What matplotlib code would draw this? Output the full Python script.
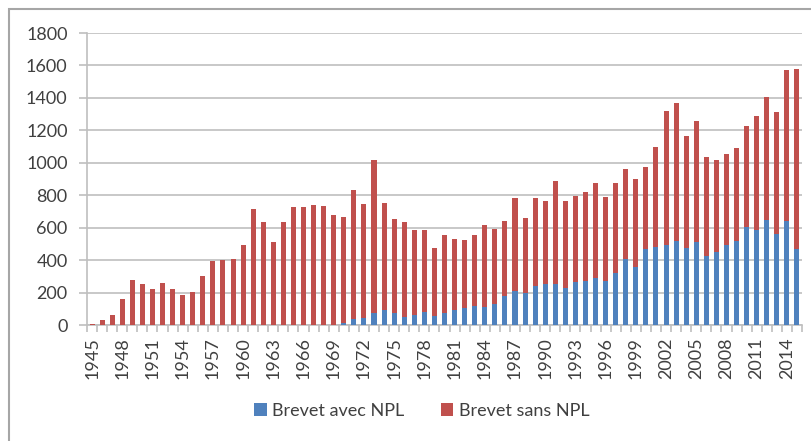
# -*- coding: UTF-8 -*-
# Brevets avec / sans NPL par année (barres empilées)

import matplotlib
matplotlib.use("Agg")
import matplotlib.pyplot as plt
from matplotlib.patches import Rectangle

# Données
annees = list(range(1945, 2016))
avec_npl = [0, 0, 0, 0, 0, 0, 0, 0, 0, 0,
            0, 0, 0, 0, 0, 0, 0, 0, 0, 0,
            0, 0, 0, 0, 0, 10, 35, 41, 72, 91,
            72, 50, 60, 83, 54, 76, 91, 103, 116, 111,
            128, 177, 208, 196, 239, 252, 252, 227, 264, 272,
            287, 272, 322, 405, 355, 466, 479, 493, 518, 473,
            512, 427, 448, 493, 516, 603, 588, 648, 561, 644,
            466]
sans_npl = [5, 30, 60, 160, 280, 250, 220, 260, 220, 185,
            205, 305, 395, 400, 405, 495, 715, 635, 510, 635,
            727, 727, 740, 735, 680, 657, 795, 702, 943, 662,
            582, 586, 526, 503, 419, 479, 439, 419, 439, 508,
            466, 465, 576, 462, 545, 514, 633, 535, 531, 545,
            586, 514, 551, 555, 543, 508, 619, 826, 850, 693,
            743, 609, 569, 562, 576, 625, 702, 755, 750, 929,
            1113]
etiquettes = [str(a) for a in annees[::3]]

bleu, rouge = "#4F81BD", "#C0504D"
gris, texte = "#BFBFBF", "#404040"

plt.rcParams['font.family'] = ['Lato', 'DejaVu Sans']

fig = plt.figure(figsize=(8.11, 4.41), dpi=100)
ax = fig.add_axes([87/811, 1-325/441, 715/811, 292/441])

x = list(range(len(annees)))
ax.bar(x, avec_npl, width=0.5, color=bleu, label="Brevet avec NPL", zorder=3)
ax.bar(x, sans_npl, width=0.5, bottom=avec_npl, color=rouge, label="Brevet sans NPL", zorder=3)

ax.set_xlim(-0.5, len(annees) - 0.5)
ax.set_ylim(0, 1800)
ax.set_yticks(range(0, 1801, 200))
ax.yaxis.grid(True, color=gris, linewidth=1.2, zorder=0)
ax.tick_params(axis='y', length=6, color=gris, width=1.2, labelsize=13, labelcolor=texte, pad=8)

# graduations entre catégories, étiquettes toutes les 3 années
ax.set_xticks(x[::3])
ax.set_xticklabels(etiquettes, rotation=90, fontsize=13, color=texte)
ax.set_xticks([i - 0.5 for i in range(len(annees) + 1)], minor=True)
ax.tick_params(axis='x', which='major', length=0, pad=9)
ax.tick_params(axis='x', which='minor', length=5, color=gris, width=1.2)

for s in ['top', 'right']:
    ax.spines[s].set_visible(False)
ax.spines['left'].set_color(gris)
ax.spines['bottom'].set_color(gris)
ax.spines['left'].set_linewidth(1.2)
ax.spines['bottom'].set_linewidth(1.2)

fig.legend(loc='center', bbox_to_anchor=(0.52, 1-411/441), ncol=2, frameon=False,
           fontsize=13, handlelength=0.7, handleheight=0.7, handletextpad=0.3,
           columnspacing=2.0, labelcolor=texte)

# cadre du graphique
fig.patches.append(Rectangle((9/811, -0.1), 1.2, 1.1 - 9/441, transform=fig.transFigure,
                             fill=False, edgecolor="#A6A6A6", linewidth=1.5))

fig.savefig("out.png", dpi=100)
